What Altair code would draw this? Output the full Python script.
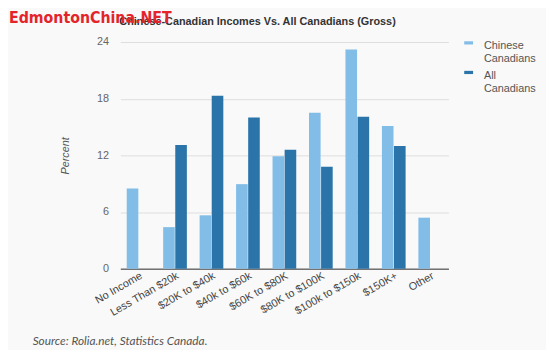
import altair as alt
import pandas as pd

categories = ["No Income", "Less Than $20k", "$20K to $40k", "$40k to $60k",
              "$60K to $80K", "$80K to $100K", "$100k to $150k", "$150K+", "Other"]
chinese = [8.5, 4.4, 5.65, 8.95, 11.9, 16.5, 23.2, 15.1, 5.4]
all_can = [None, 13.1, 18.3, 16.0, 12.6, 10.8, 16.1, 13.0, None]
series = ["Chinese Canadians", "All Canadians"]
y_ticks = [0, 6, 12, 18, 24]

rows = []
for c, a, b in zip(categories, chinese, all_can):
    if a is not None:
        rows.append({"cat": c, "series": series[0], "value": a})
    if b is not None:
        rows.append({"cat": c, "series": series[1], "value": b})
df = pd.DataFrame(rows)

W, H = 333, 230
FONT = "Liberation Sans"

bars = alt.Chart(df).mark_bar().encode(
    x=alt.X("cat:N", sort=categories,
            scale=alt.Scale(paddingInner=0.35, paddingOuter=0.175),
            axis=alt.Axis(title=None, labelAngle=-30, labelAlign="right",
                          labelBaseline="top", labelFontSize=11, labelColor="#444",
                          labelFont=FONT, ticks=False, domainColor="#333",
                          domainWidth=1, labelPadding=1)),
    xOffset=alt.XOffset("series:N", sort=series, scale=alt.Scale(paddingInner=0.04)),
    y=alt.Y("value:Q", scale=alt.Scale(domain=[0, 24]),
            axis=alt.Axis(title="Percent", values=y_ticks, labelColor="#666",
                          labelFontSize=11, labelFont=FONT, ticks=False, domain=False,
                          labelPadding=12, gridColor="#dddddd", titleFont=FONT,
                          titleFontStyle="italic", titleFontWeight="normal",
                          titleFontSize=11, titleColor="#555", titlePadding=26)),
    color=alt.Color("series:N", sort=series,
                    scale=alt.Scale(domain=series, range=["#82bde8", "#2b74a9"]),
                    legend=alt.Legend(title=None, orient="none", legendX=348, legendY=-7,
                                      symbolType="M-0.9,0.15 h1.8 v0.65 h-1.8 Z",
                                      symbolSize=100, symbolStrokeWidth=0,
                                      labelExpr="split(datum.label, ' ')",
                                      labelBaseline="top", labelFont=FONT,
                                      labelFontSize=11, labelColor="#555",
                                      labelOffset=10, rowPadding=-15)),
)

title_df = pd.DataFrame({"t": ["Chinese-Canadian Incomes Vs. All Canadians (Gross)"]})
title = alt.Chart(title_df).mark_text(align="left", baseline="middle", font=FONT,
                                      fontSize=11, fontWeight="bold", color="#333").encode(
    x=alt.value(-1), y=alt.value(-20), text="t:N")

wm_df = pd.DataFrame({"t": ["EdmontonChina.NET"]})
wm = alt.Chart(wm_df).mark_text(align="left", baseline="middle",
                                font="DejaVu Sans Condensed",
                                fontSize=16, fontWeight="bold", color="#e3242b").encode(
    x=alt.value(-113), y=alt.value(-24), text="t:N")

src_df = pd.DataFrame({"t": ["Source: Rolia.net, Statistics Canada."]})
src = alt.Chart(src_df).mark_text(align="left", baseline="middle", font="Lato",
                                  fontSize=12, fontStyle="italic", color="#555").encode(
    x=alt.value(-89), y=alt.value(303), text="t:N")

chart = alt.layer(bars, title, wm, src).properties(
    width=W, height=H,
    autosize=alt.AutoSizeParams(type="none"),
    padding={"left": 114, "top": 32, "right": 99, "bottom": 80},
    background="#f9f9f9",
).configure_view(stroke=None)

chart.save("out.html", embed_options={"renderer": "svg", "actions": False})
